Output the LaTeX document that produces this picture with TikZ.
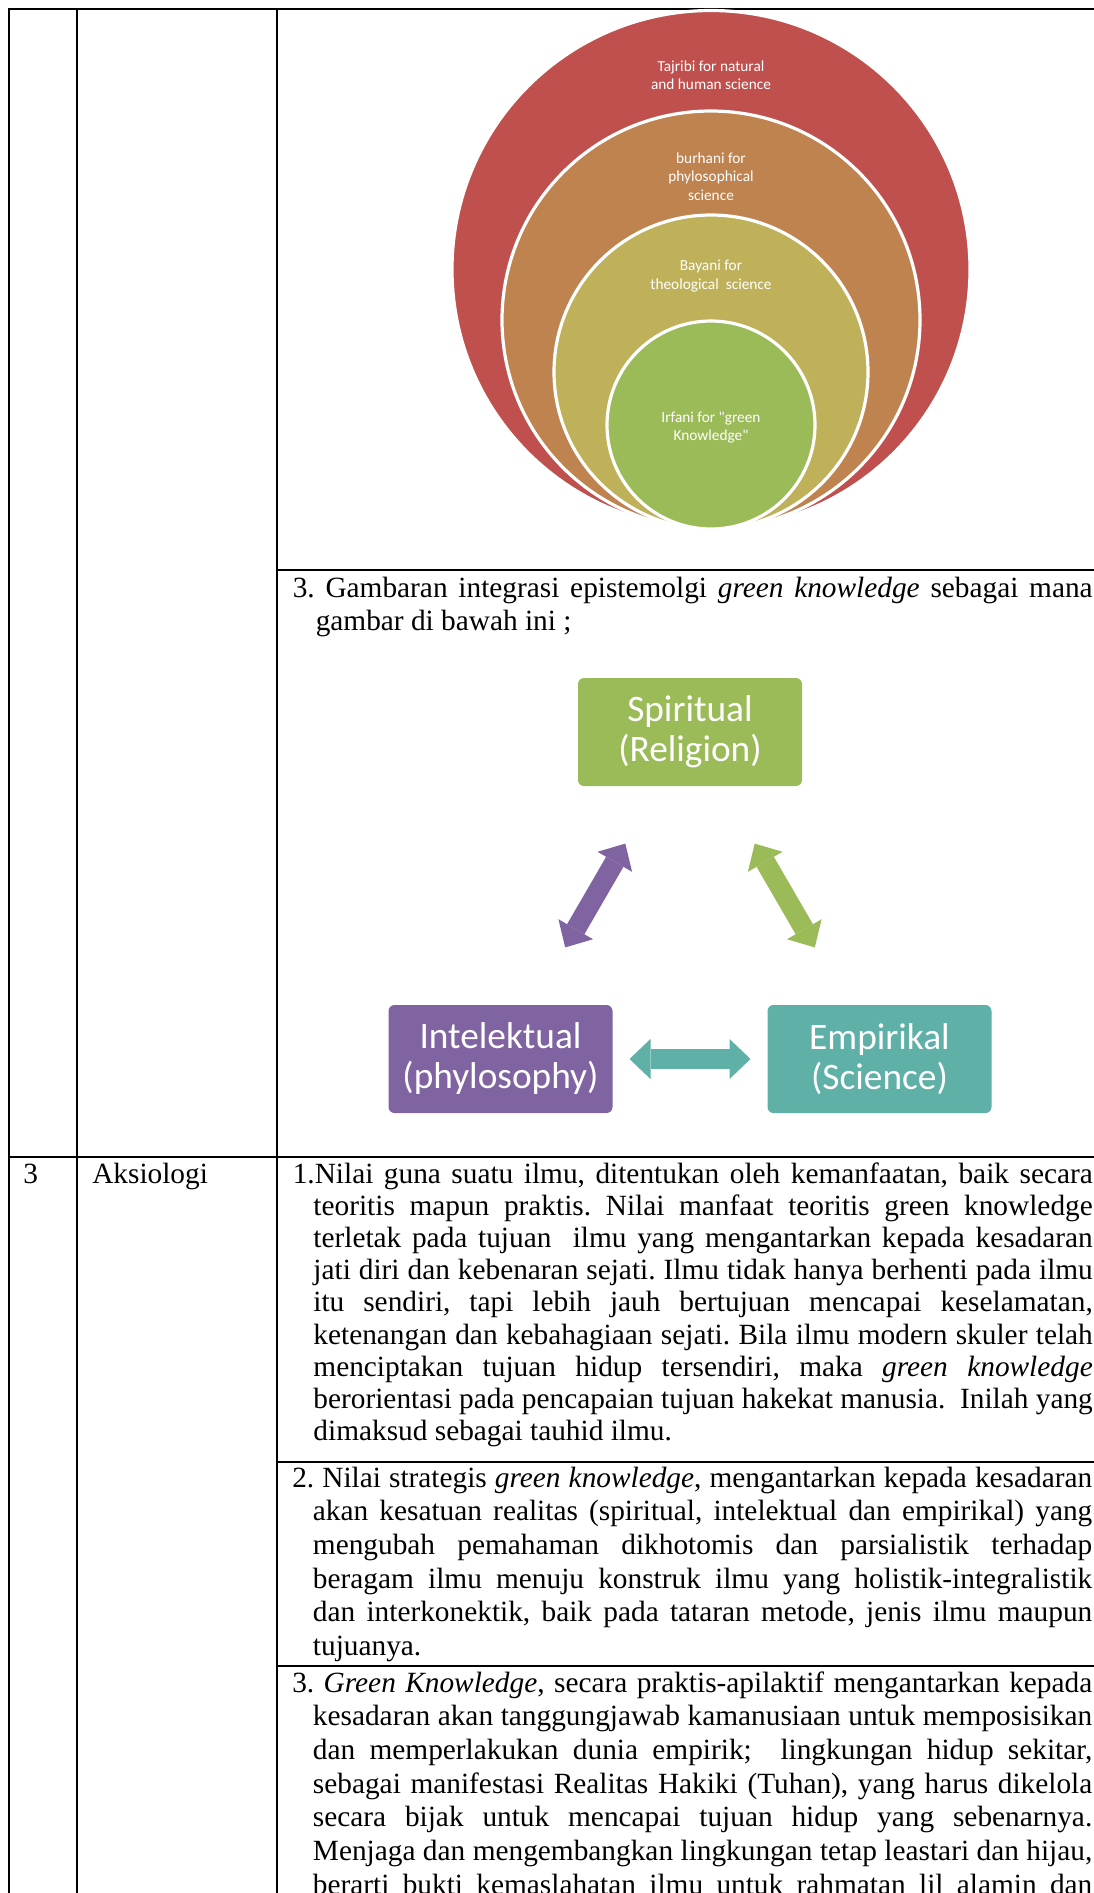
\documentclass[tikz,border=0pt]{standalone}
\usepackage{fontspec}
\setmainfont{Liberation Serif}
\newfontfamily\smartfont{Carlito}
\usetikzlibrary{arrows.meta}
\definecolor{cred}{HTML}{C0504D}
\definecolor{corange}{HTML}{BF834F}
\definecolor{colive}{HTML}{BFB15A}
\definecolor{cgreen}{HTML}{9BBB59}
\definecolor{cpurple}{HTML}{8064A2}
\definecolor{cteal}{HTML}{5FB0A6}
\frenchspacing
\hbadness=10000
\hfuzz=50pt
\newcommand\justln[1]{\hbox to 600pt{#1}}
\newcommand\lastln[1]{\hbox{#1}}
\newcommand\headind{\hskip 17.25pt\relax}
\newcommand\itemind{\hskip 15.5pt\relax}
\tikzset{
  rule/.style={line width=1.6pt},
  body/.style={anchor=base west, inner sep=0pt, font=\fontsize{22}{25.3}\selectfont},
  ring/.style={draw=white, line width=2.4pt},
  ringtext/.style={text=white, align=center, font=\smartfont\fontsize{11.5}{13.8}\selectfont, inner sep=0pt},
  sabox/.style={rounded corners=4.5pt, minimum width=168pt, minimum height=81pt, text=white, align=center, font=\smartfont\fontsize{28}{30}\selectfont, inner sep=0pt},
  fat/.style={line width=15pt, arrows={Triangle[length=15.75pt,width=30pt,line width=0pt]-Triangle[length=15.75pt,width=30pt,line width=0pt]}, shorten <=96.75pt, shorten >=96.75pt},
}
\begin{document}
\begin{tikzpicture}[x=0.75pt,y=-0.75pt]
\useasboundingbox (0,0) rectangle (1094,1893);
\fill[white] (0,0) rectangle (1094,1893);
% table rules
\draw[rule] (8,9) -- (1094,9);
\draw[rule] (9,8) -- (9,1893);
\draw[rule] (77,8) -- (77,1893);
\draw[rule] (277,8) -- (277,1893);
\draw[rule] (277,570) -- (1094,570);
\draw[rule] (8,1157) -- (1094,1157);
\draw[rule] (277,1462) -- (1094,1462);
\draw[rule] (277,1666) -- (1094,1666);
% nested circles
\filldraw[ring, fill=cred] (711,269.5) circle[radius=194.25pt];
\filldraw[ring, fill=corange] (711,320) circle[radius=156.75pt];
\filldraw[ring, fill=colive] (711,372) circle[radius=117.75pt];
\filldraw[ring, fill=cgreen] (711,425) circle[radius=78pt];
\node[ringtext] (tred) at (711,75.5) {Tajribi for natural\\and human science};
\node[ringtext] (torange) at (711,176.5) {burhani for\\phylosophical\\science};
\node[ringtext] (tolive) at (711,276) {Bayani for\\theological\ \ science};
\node[ringtext] (tgreen) at (711,427.5) {Irfani for "green\\Knowledge"};
% row 2 heading
\node[body] (h3) at (292.5,597) {\vtop{\baselineskip=25.3pt\lineskiplimit=-100pt
\justln{3. Gambaran integrasi epistemolgi \textit{green knowledge} sebagai mana}
\lastln{\headind gambar di bawah ini ;}}};
% triangle diagram
\node[sabox, fill=cgreen] (spir) at (690,732) {Spiritual\\(Religion)};
\node[sabox, fill=cpurple] (intel) at (500.5,1059) {Intelektual\\(phylosophy)};
\node[sabox, fill=cteal] (emp) at (879.5,1059) {Empirikal\\(Science)};
\draw[fat, cpurple] (spir.center) -- (intel.center);
\draw[fat, cgreen] (spir.center) -- (emp.center);
\draw[fat, cteal] (intel.center) -- (emp.center);
% row 3
\node[body] (num3) at (23,1183) {3};
\node[body] (aks) at (92,1183) {Aksiologi};
\node[body] (item1) at (292.5,1183) {\vtop{\baselineskip=24.15pt\lineskiplimit=-100pt
\justln{1.Nilai guna suatu ilmu, ditentukan oleh kemanfaatan, baik secara}
\justln{\itemind teoritis mapun praktis. Nilai manfaat teoritis green knowledge}
\justln{\itemind terletak pada tujuan\ \ ilmu yang mengantarkan kepada kesadaran}
\justln{\itemind jati diri dan kebenaran sejati. Ilmu tidak hanya berhenti pada ilmu}
\justln{\itemind itu sendiri, tapi lebih jauh bertujuan mencapai keselamatan,}
\justln{\itemind ketenangan dan kebahagiaan sejati. Bila ilmu modern skuler telah}
\justln{\itemind menciptakan tujuan hidup tersendiri, maka \textit{green knowledge}}
\justln{\itemind berorientasi pada pencapaian tujuan hakekat manusia.\ \ Inilah yang}
\lastln{\itemind dimaksud sebagai tauhid ilmu.}}};
\node[body] (item2) at (292,1487) {\vtop{\baselineskip=25.3pt\lineskiplimit=-100pt
\justln{2. Nilai strategis \textit{green knowledge}, mengantarkan kepada kesadaran}
\justln{\itemind akan kesatuan realitas (spiritual, intelektual dan empirikal) yang}
\justln{\itemind mengubah pemahaman dikhotomis dan parsialistik terhadap}
\justln{\itemind beragam ilmu menuju konstruk ilmu yang holistik-integralistik}
\justln{\itemind dan interkonektik, baik pada tataran metode, jenis ilmu maupun}
\lastln{\itemind tujuanya.}}};
\node[body] (item3) at (292,1692) {\vtop{\baselineskip=25.3pt\lineskiplimit=-100pt
\justln{3. \textit{Green Knowledge}, secara praktis-apilaktif mengantarkan kepada}
\justln{\itemind kesadaran akan tanggungjawab kamanusiaan untuk memposisikan}
\justln{\itemind dan memperlakukan dunia empirik;\ \ lingkungan hidup sekitar,}
\justln{\itemind sebagai manifestasi Realitas Hakiki (Tuhan), yang harus dikelola}
\justln{\itemind secara bijak untuk mencapai tujuan hidup yang sebenarnya.}
\justln{\itemind Menjaga dan mengembangkan lingkungan tetap leastari dan hijau,}
\justln{\itemind berarti bukti kemaslahatan ilmu untuk rahmatan lil alamin dan}}};
\end{tikzpicture}
\end{document}
